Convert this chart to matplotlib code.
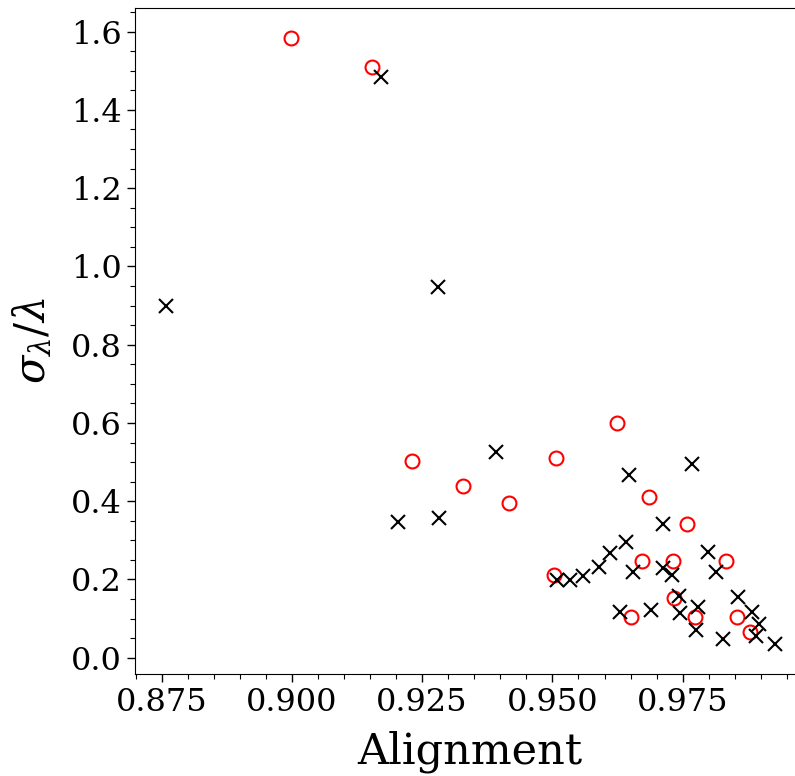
import numpy as np
import matplotlib
matplotlib.use("Agg")
import matplotlib.pyplot as plt
from matplotlib.ticker import MultipleLocator

plt.rcParams['font.family'] = 'DejaVu Serif'
plt.rcParams['mathtext.fontset'] = 'dejavuserif'

# croix noires
align_x = [0.8758, 0.9171, 0.9280, 0.9204, 0.9282, 0.9392, 0.9767, 0.9647,
           0.9712, 0.9641, 0.9799, 0.9610, 0.9589, 0.9655, 0.9713, 0.9729,
           0.9814, 0.9508, 0.9534, 0.9558, 0.9742, 0.9857, 0.9630, 0.9689,
           0.9779, 0.9745, 0.9884, 0.9897, 0.9776, 0.9891, 0.9827, 0.9927]
sigma_x = [0.900, 1.483, 0.948, 0.346, 0.357, 0.527, 0.495, 0.467,
           0.342, 0.297, 0.271, 0.267, 0.233, 0.220, 0.229, 0.212,
           0.220, 0.199, 0.199, 0.209, 0.158, 0.154, 0.117, 0.123,
           0.130, 0.114, 0.116, 0.087, 0.072, 0.056, 0.049, 0.036]

# cercles rouges
align_o = [0.8998, 0.9154, 0.9230, 0.9328, 0.9416, 0.9507, 0.9624, 0.9686,
           0.9758, 0.9671, 0.9732, 0.9833, 0.9503, 0.9733, 0.9650, 0.9774,
           0.9855, 0.9879]
sigma_o = [1.583, 1.510, 0.503, 0.438, 0.395, 0.510, 0.600, 0.412,
           0.342, 0.248, 0.248, 0.248, 0.212, 0.152, 0.104, 0.105,
           0.104, 0.066]

fig = plt.figure(figsize=(7.95, 7.76), dpi=100)
ax = fig.add_axes([135/795, 102/776, 670/795, 666/776])

ax.plot(align_o, sigma_o, 'o', mfc='none', mec='red', ms=10, mew=1.5)
ax.plot(align_x, sigma_x, 'x', color='black', ms=10, mew=1.5)

ax.set_xlim(0.86988, 0.99848)
ax.set_ylim(-0.0415, 1.6603)
ax.xaxis.set_major_locator(MultipleLocator(0.025))
ax.xaxis.set_minor_locator(MultipleLocator(0.005))
ax.yaxis.set_major_locator(MultipleLocator(0.2))
ax.yaxis.set_minor_locator(MultipleLocator(0.05))
ax.xaxis.set_major_formatter(plt.FormatStrFormatter('%.3f'))
ax.yaxis.set_major_formatter(plt.FormatStrFormatter('%.1f'))
ax.tick_params(which='major', length=6, width=1, labelsize=23)
ax.tick_params(which='minor', length=3.5, width=0.8)

ax.set_xlabel('Alignment', fontsize=31, labelpad=9)
ax.set_ylabel(r'$\sigma_\lambda/\lambda$', fontsize=30, labelpad=12)

fig.savefig('out.png', dpi=100)
